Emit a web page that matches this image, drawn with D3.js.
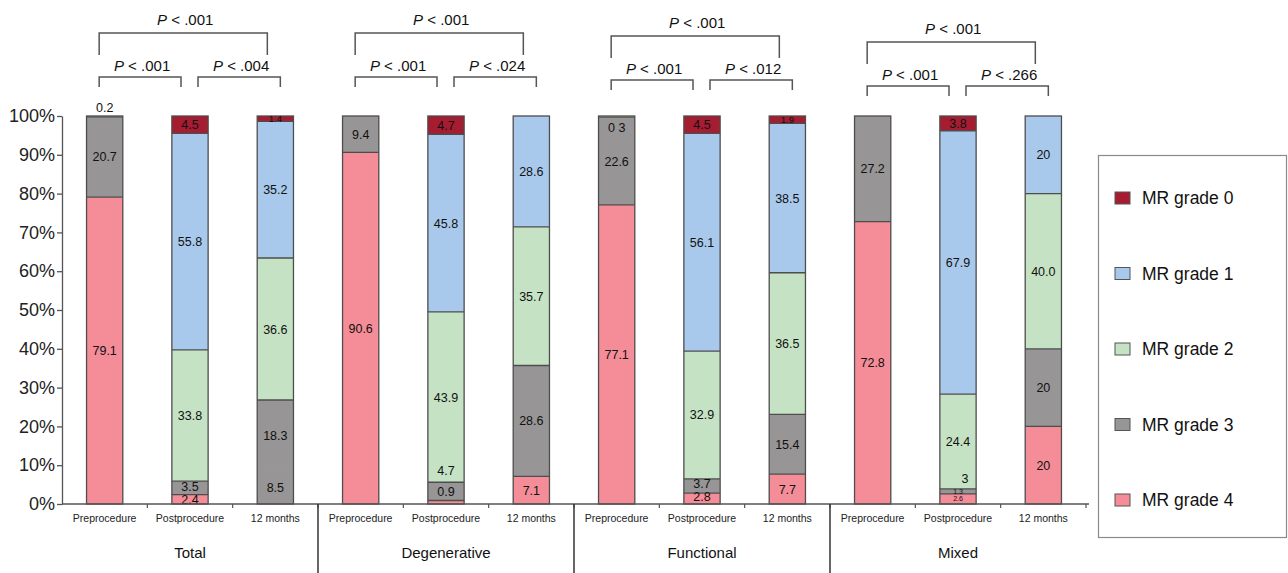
<!DOCTYPE html>
<html>
<head>
<meta charset="utf-8">
<script src="https://cdn.jsdelivr.net/npm/d3@7/dist/d3.min.js"></script>
<style>
  body { margin: 0; background: #fff; }
  svg { display: block; font-family: "Liberation Sans", Arial, sans-serif; }
</style>
</head>
<body>
<svg id="chart" width="1288" height="573"></svg>
<script>
// ---- data -------------------------------------------------------------
const groups = ["Total", "Degenerative", "Functional", "Mixed"];
const timepoints = ["Preprocedure", "Postprocedure", "12 months"];
// stacking order, bottom to top
const grades = ["MR grade 4", "MR grade 3", "MR grade 2", "MR grade 1", "MR grade 0"];
const legendOrder = ["MR grade 0", "MR grade 1", "MR grade 2", "MR grade 3", "MR grade 4"];

// percentages for the 12 bars (group x timepoint), as printed on the bars
const grade4 = ["79.1", "2.4", "8.5",  "90.6", "0.9", "7.1",  "77.1", "2.8", "7.7",  "72.8", "2.6", "20"];
const grade3 = ["20.7", "3.5", "18.3", "9.4",  "4.7", "28.6", "22.6", "3.7", "15.4", "27.2", "1.3", "20"];
const grade2 = ["0.2",  "33.8", "36.6", null,  "43.9", "35.7", "0.3", "32.9", "36.5", null,  "24.4", "40.0"];
const grade1 = [null,   "55.8", "35.2", null,  "45.8", "28.6", null,  "56.1", "38.5", null,  "67.9", "20"];
const grade0 = [null,   "4.5",  "1.4",  null,  "4.7",  null,   null,  "4.5",  "1.9",  null,  "3.8",  null];

// P values: [pre vs 12 months, pre vs post, post vs 12 months]
const pValues = [
  [".001", ".001", ".004"],
  [".001", ".001", ".024"],
  [".001", ".001", ".012"],
  [".001", ".001", ".266"]
];
const yTicks = [0, 10, 20, 30, 40, 50, 60, 70, 80, 90, 100];

// ---- layout -----------------------------------------------------------
const plot = { left: 62, right: 1086, top: 116, bottom: 504 };
const colors = {
  "MR grade 0": "#a61c31",
  "MR grade 1": "#a9c9ec",
  "MR grade 2": "#c5e3c4",
  "MR grade 3": "#979595",
  "MR grade 4": "#f48d97"
};
const seriesByGrade = {
  "MR grade 4": grade4, "MR grade 3": grade3, "MR grade 2": grade2,
  "MR grade 1": grade1, "MR grade 0": grade0
};
const edge = "#4d4d4d";

const svg = d3.select("#chart");
const keys = groups.flatMap(g => timepoints.map(t => g + "|" + t));
const x = d3.scaleBand().domain(keys).range([plot.left, plot.right]).padding(0);
const y = d3.scaleLinear().domain([0, 100]).range([plot.bottom, plot.top]);
const barW = x.bandwidth() * 0.425;
const cx = k => x(k) + x.bandwidth() / 2;

const rows = keys.map((k, i) => {
  const r = { key: k, index: i };
  grades.forEach(g => { r[g] = seriesByGrade[g][i] == null ? 0 : +seriesByGrade[g][i]; });
  return r;
});
const stacked = d3.stack().keys(grades).value((d, g) => d[g])(rows);

// the 12-month total bar shows its lowest band in the grade-3 shade, merged with grade 3
const merged = (grade, i) => grade === "MR grade 4" && i === 2;
const fillFor = (grade, i) => merged(grade, i) ? colors["MR grade 3"] : colors[grade];

// ---- bars -------------------------------------------------------------
const segs = [];
stacked.forEach(layer => layer.forEach(d => {
  if (d[1] - d[0] > 0) segs.push({ grade: layer.key, d, i: d.data.index });
}));
const barG = svg.append("g");
barG.selectAll("rect.seg").data(segs).join("rect")
  .attr("class", "seg")
  .attr("x", o => cx(o.d.data.key) - barW / 2)
  .attr("width", barW)
  .attr("y", o => y(o.d[1]))
  .attr("height", o => y(o.d[0]) - y(o.d[1]))
  .attr("fill", o => fillFor(o.grade, o.i));

// dividers between adjacent bands
const totals = rows.map(r => d3.sum(grades, g => r[g]));
barG.selectAll("line.div")
  .data(segs.filter(o => !merged(o.grade, o.i) && o.d[1] < totals[o.i] - 0.05))
  .join("line")
  .attr("class", "div")
  .attr("x1", o => cx(o.d.data.key) - barW / 2)
  .attr("x2", o => cx(o.d.data.key) + barW / 2)
  .attr("y1", o => y(o.d[1])).attr("y2", o => y(o.d[1]))
  .attr("stroke", edge).attr("stroke-width", 1.3);

// bar outlines
barG.selectAll("rect.outline").data(rows).join("rect")
  .attr("class", "outline")
  .attr("x", r => cx(r.key) - barW / 2)
  .attr("width", barW)
  .attr("y", r => y(totals[r.index]))
  .attr("height", r => y(0) - y(totals[r.index]))
  .attr("fill", "none")
  .attr("stroke", edge).attr("stroke-width", 1.3);

// ---- segment labels ---------------------------------------------------
// label placement tweaks: position in % units, text, font size
const labelTweaks = {
  "0|MR grade 2": { at: 102.3 },
  "6|MR grade 2": { at: 97.0, text: "0 3" },
  "4|MR grade 4": { at: 3.25 },
  "4|MR grade 3": { at: 8.6 },
  "10|MR grade 4": { size: 7 },
  "10|MR grade 3": { size: 7 },
  "2|MR grade 0": { size: 9.5 },
  "8|MR grade 0": { size: 9.5 },
  "1|MR grade 3": { at: 4.6 },
  "7|MR grade 3": { at: 5.2 },
  "7|MR grade 4": { at: 2.0 }
};
const labelData = [];
stacked.forEach(layer => {
  layer.forEach(d => {
    const i = d.data.index;
    const raw = seriesByGrade[layer.key][i];
    if (raw == null) return;
    const t = labelTweaks[i + "|" + layer.key] || {};
    labelData.push({
      x: cx(d.data.key),
      pos: t.at != null ? t.at : (d[0] + d[1]) / 2,
      text: t.text || raw,
      size: t.size || 12.5
    });
  });
});
// stray marker printed inside the mixed postprocedure bar
labelData.push({ x: cx(keys[10]) + 7, pos: 6.6, text: "3", size: 12.5 });

svg.append("g").selectAll("text").data(labelData).join("text")
  .attr("x", d => d.x)
  .attr("y", d => y(d.pos))
  .attr("dy", "0.36em")
  .attr("text-anchor", "middle")
  .attr("font-size", d => d.size)
  .attr("fill", "#111")
  .text(d => d.text);

// ---- y axis -----------------------------------------------------------
const yAxis = svg.append("g")
  .attr("transform", `translate(${plot.left},0)`)
  .call(d3.axisLeft(y).tickValues(yTicks).tickFormat(d => d + "%").tickSize(5).tickSizeOuter(0).tickPadding(2));
yAxis.selectAll("text").attr("font-size", 18).attr("fill", "#222")
  .attr("font-family", "Liberation Sans, Arial, sans-serif");
yAxis.selectAll("line, path").attr("stroke", "#555").attr("stroke-width", 1.3);

// ---- x axis -----------------------------------------------------------
const xAxis = svg.append("g");
xAxis.append("line")
  .attr("x1", plot.left).attr("x2", plot.right + 3)
  .attr("y1", plot.bottom).attr("y2", plot.bottom)
  .attr("stroke", "#555").attr("stroke-width", 1.3);
xAxis.selectAll("line.tick").data(keys.slice(1).concat(["end"])).join("line")
  .attr("class", "tick")
  .attr("x1", k => k === "end" ? plot.right : x(k))
  .attr("x2", k => k === "end" ? plot.right : x(k))
  .attr("y1", plot.bottom).attr("y2", plot.bottom + 4)
  .attr("stroke", "#555").attr("stroke-width", 1.2);
xAxis.selectAll("text.cat").data(keys).join("text")
  .attr("class", "cat")
  .attr("x", k => cx(k))
  .attr("y", 522)
  .attr("text-anchor", "middle")
  .attr("font-size", 10.5)
  .attr("fill", "#222")
  .text(k => k.split("|")[1]);

// group separators below the axis
svg.append("g").selectAll("line").data([3, 6, 9]).join("line")
  .attr("x1", i => x(keys[i])).attr("x2", i => x(keys[i]))
  .attr("y1", plot.bottom).attr("y2", 573)
  .attr("stroke", "#333").attr("stroke-width", 1.5);

// group names
svg.append("g").selectAll("text").data(groups).join("text")
  .attr("x", (g, gi) => cx(keys[gi * 3 + 1]))
  .attr("y", 558)
  .attr("text-anchor", "middle")
  .attr("font-size", 15)
  .attr("fill", "#111")
  .text(g => g);

// ---- significance brackets -------------------------------------------
const bracketShift = [0, 0, 3, 9];
const brackets = svg.append("g");
groups.forEach((g, gi) => {
  const c0 = cx(keys[gi * 3]), c1 = cx(keys[gi * 3 + 1]), c2 = cx(keys[gi * 3 + 2]);
  const s = bracketShift[gi];
  const spans = [
    { l: c0 - 5.5, r: c2 - 8, top: 33 + s, leg: 22, p: pValues[gi][0], ty: 25 + s },
    { l: c0 - 5.5, r: c1 - 9, top: 77 + s, leg: 10, p: pValues[gi][1], ty: 71 + s },
    { l: c1 + 8,   r: c2 + 5, top: 77 + s, leg: 10, p: pValues[gi][2], ty: 71 + s }
  ];
  spans.forEach(b => {
    brackets.append("path")
      .attr("d", `M${b.l},${b.top + b.leg}V${b.top}H${b.r}V${b.top + b.leg}`)
      .attr("fill", "none").attr("stroke", "#555").attr("stroke-width", 1.5);
    const t = brackets.append("text")
      .attr("x", (b.l + b.r) / 2 + 2)
      .attr("y", b.ty)
      .attr("text-anchor", "middle")
      .attr("font-size", 15)
      .attr("fill", "#111");
    t.append("tspan").attr("font-style", "italic").text("P");
    t.append("tspan").text(" < " + b.p);
  });
});

// ---- legend -----------------------------------------------------------
const legend = svg.append("g");
legend.append("rect")
  .attr("x", 1098.5).attr("y", 155.5).attr("width", 188).attr("height", 382)
  .attr("fill", "#fff").attr("stroke", "#8a8a8a").attr("stroke-width", 1.2);
const ly = d3.scalePoint().domain(legendOrder).range([198, 500]);
const items = legend.selectAll("g.item").data(legendOrder).join("g")
  .attr("class", "item")
  .attr("transform", d => `translate(0,${ly(d)})`);
items.append("rect")
  .attr("x", 1115).attr("y", -6).attr("width", 15).attr("height", 12)
  .attr("fill", d => colors[d])
  .attr("stroke", "#555").attr("stroke-width", 1);
items.append("text")
  .attr("x", 1142).attr("y", 0).attr("dy", "0.36em")
  .attr("font-size", 17.5).attr("fill", "#111")
  .text(d => d);
</script>
</body>
</html>
